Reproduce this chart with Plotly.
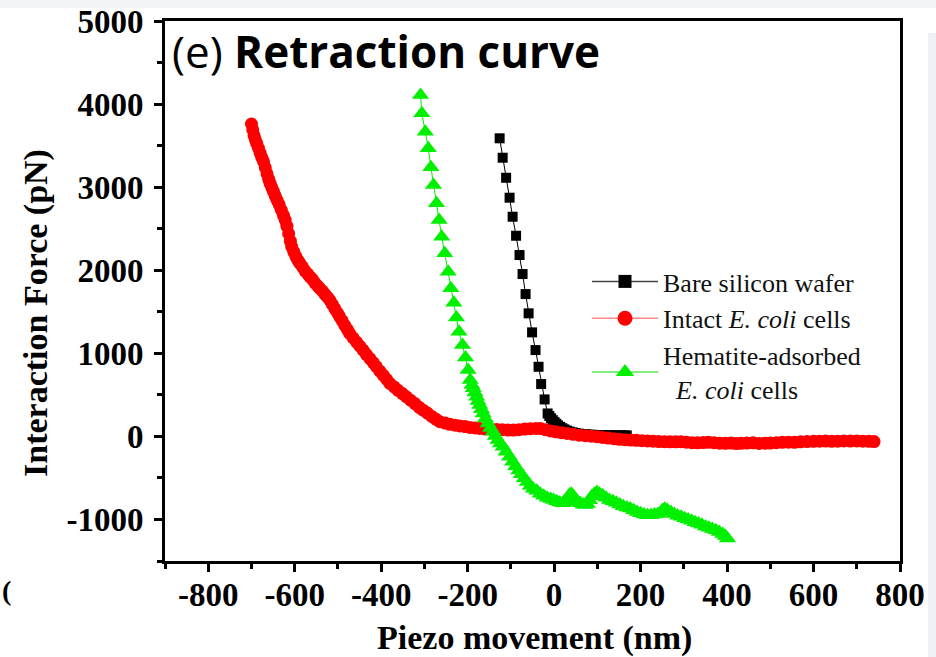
import plotly.graph_objects as go

# Piezo movement (nm) and interaction force (pN) for each retraction curve
bare_x = [-126, -119, -111, -103, -96, -88, -80, -73, -66, -59, -51, -43, -36, -30, -22, -15,
          -11, -7, -3, 1, 5, 9, 14, 19, 24, 30, 36, 43, 50, 58, 66, 74, 82, 90, 98, 106,
          114, 122, 130, 138, 146, 154, 162, 168]
bare_y = [3588, 3354, 3113, 2873, 2644, 2415, 2183, 1954, 1713, 1481, 1252, 1039, 838, 630, 445, 276,
          245, 218, 195, 172, 152, 133, 115, 98, 84, 70, 58, 48, 40, 33, 28, 24, 21, 19, 17, 16,
          15, 14, 13, 13, 12, 12, 12, 12]

intact_x = [-700, -697, -694, -691, -688, -684, -680, -676, -672, -668, -664, -660, -657, -653,
            -649, -645, -641, -636, -631, -626, -622, -618, -614, -610, -607, -602, -597, -592,
            -588, -582, -576, -570, -565, -559, -553, -547, -542, -536, -530, -524, -519, -513,
            -507, -501, -496, -490, -484, -478, -473, -465, -457, -449, -442, -434, -426, -418,
            -411, -403, -395, -387, -380, -370, -361, -351, -342, -332, -322, -312, -303, -293,
            -283, -273, -264, -252, -241, -229, -218, -206, -195, -183, -172, -160, -147, -133,
            -120, -107, -94, -81, -68, -55, -42, -32, -20, -8, 4, 17, 30, 44, 58, 72, 86, 99,
            112, 125, 138, 151, 164, 177, 190, 203, 216, 229, 242, 255, 268, 281, 293, 306,
            319, 332, 345, 357, 370, 383, 396, 409, 421, 432, 446, 460, 474, 488, 500, 514,
            528, 542, 556, 570, 585, 600, 614, 628, 642, 656, 670, 685, 700, 714, 728, 740]
intact_y = [3760, 3690, 3620, 3570, 3528, 3470, 3410, 3355, 3306, 3235, 3160, 3095, 3046, 2995,
            2945, 2895, 2845, 2790, 2725, 2660, 2604, 2530, 2440, 2350, 2283, 2220, 2160, 2115,
            2083, 2040, 1990, 1955, 1922, 1890, 1845, 1810, 1782, 1750, 1710, 1675, 1641, 1590,
            1535, 1485, 1440, 1390, 1335, 1285, 1240, 1185, 1135, 1085, 1039, 985, 935, 885,
            838, 785, 735, 685, 638, 595, 555, 515, 477, 435, 395, 350, 316, 280,
            240, 205, 176, 160, 145, 135, 126, 118, 108, 102, 96, 90, 86, 82,
            80, 76, 76, 80, 88, 92, 96, 96, 80, 65, 55, 45, 36, 25, 15, 8, 2, -4,
            -12, -20, -28, -35, -40, -44, -48, -52, -55, -58, -62, -64, -66, -65, -64, -70,
            -76, -78, -74, -72, -76, -82, -84, -80, -86, -84, -80, -78, -85, -82, -80, -76,
            -72, -70, -72, -66, -62, -60, -58, -56, -60, -58, -55, -56, -55, -58, -60, -62]

hematite_x = [-309, -306, -298, -291, -285, -279, -272, -266, -260, -253, -245, -239, -232, -226,
              -220, -212, -205, -199, -194, -190, -187, -183, -179, -176, -172, -168, -164, -159,
              -153, -147, -141, -136, -130, -124, -118, -111, -103, -96, -89, -82, -76, -69,
              -62, -55, -48, -40, -32, -24, -16, -8, -1, 6, 13, 20, 26, 31, 36, 40, 45, 50,
              55, 61, 67, 72, 77, 82, 87, 93, 99, 105, 112, 120, 128, 136, 144, 152, 160, 168,
              176, 184, 192, 200, 208, 216, 224, 232, 240, 246, 251, 256, 262, 270, 278, 286,
              294, 302, 310, 318, 326, 334, 342, 350, 358, 366, 374, 382, 390, 396, 401]
hematite_y = [4109, 3889, 3667, 3467, 3239, 3026, 2805, 2604, 2403, 2203, 1982, 1782, 1609, 1432,
              1259, 1099, 951, 798, 678, 620, 578, 528, 477, 427, 377, 326, 276, 216,
              156, 100, 55, 5, -45, -85, -125, -185, -245, -305, -360, -410, -455, -505,
              -550, -595, -630, -655, -690, -715, -740, -755, -767, -780, -795, -805, -790, -740,
              -700, -690, -720, -760, -790, -805, -820, -825, -815, -770, -720, -690, -670, -690,
              -710, -740, -765, -780, -800, -820, -840, -855, -868, -890, -910, -925, -940, -948,
              -945, -940, -935, -920, -885, -870, -885, -910, -935, -955, -968, -985, -1000,
              -1015, -1035, -1050, -1065, -1085, -1100, -1115, -1130, -1150, -1175, -1200, -1228]

x_ticks = [-800, -600, -400, -200, 0, 200, 400, 600, 800]
x_tick_text = ["-800", "-600", "-400", "-200", "0", "200", "400", "600", "800"]
y_ticks = [-1000, 0, 1000, 2000, 3000, 4000, 5000]
y_tick_text = ["-1000", "0", "1000", "2000", "3000", "4000", "5000"]

series_names = ["Bare silicon wafer",
                "Intact <i>E. coli</i> cells",
                "Hematite-adsorbed<br>\u00a0\u00a0<i>E. coli</i> cells"]

BLACK = "#000000"
RED = "#ff0000"
GREEN = "#00f000"

SERIF = "Liberation Serif"

# plot-area geometry in pixels
L, R, T, B = 165, 36, 21, 96
W, H = 936, 657
PW, PH = W - L - R, H - T - B


def px_x(p):
    return (p - L) / PW


def px_y(p):
    return (H - B - p) / PH


fig = go.Figure()

# data curves (drawn in series order so later curves sit on top)
fig.add_trace(go.Scatter(x=bare_x, y=bare_y, mode="lines+markers", showlegend=False,
                         line=dict(color=BLACK, width=1),
                         marker=dict(symbol="square", size=10, color=BLACK)))
fig.add_trace(go.Scatter(x=intact_x, y=intact_y, mode="lines+markers", showlegend=False,
                         line=dict(color=RED, width=1),
                         marker=dict(symbol="circle", size=13, color=RED)))
fig.add_trace(go.Scatter(x=hematite_x, y=hematite_y, mode="lines+markers", showlegend=False,
                         line=dict(color=GREEN, width=1),
                         marker=dict(symbol="triangle-up", size=15, color=GREEN)))

# legend entries with larger symbols
legend_styles = [
    (series_names[0], "#444444", "square", 13, BLACK),
    (series_names[1], "#ff8a8a", "circle", 15, RED),
    (series_names[2], "#55e855", "triangle-up", 16, GREEN),
]
for name, lcol, sym, size, mcol in legend_styles:
    fig.add_trace(go.Scatter(x=[None], y=[None], mode="lines+markers", name=name,
                             line=dict(color=lcol, width=1.5),
                             marker=dict(symbol=sym, size=size, color=mcol)))

axis_common = dict(
    showline=True, linecolor="black", linewidth=3, mirror=True,
    ticks="outside", ticklen=8, tickwidth=3, tickcolor="black",
    showgrid=False, zeroline=False, automargin=False,
    tickfont=dict(family=SERIF, size=33, color="black", weight="bold"),
)

fig.update_xaxes(
    range=[-900, 800], tickvals=x_ticks, ticktext=x_tick_text,
    minor=dict(dtick=100, tick0=-900, ticks="outside", ticklen=5, tickwidth=3, tickcolor="black"),
    ticklabelstandoff=-6,
    **axis_common,
)
fig.update_yaxes(
    range=[-1500, 5000], tickvals=y_ticks, ticktext=y_tick_text,
    minor=dict(dtick=500, tick0=-1500, ticks="outside", ticklen=5, tickwidth=3, tickcolor="black"),
    ticklabelstandoff=4,
    **axis_common,
)

title_font = dict(family=SERIF, size=34, color="black", weight="bold")

fig.update_layout(
    width=W, height=H,
    margin=dict(l=L, r=R, t=T, b=B),
    paper_bgcolor="white", plot_bgcolor="white",
    legend=dict(x=px_x(587), y=px_y(258), xanchor="left", yanchor="top",
                bgcolor="rgba(0,0,0,0)", borderwidth=0, itemwidth=66,
                font=dict(family=SERIF, size=26, color="#111111"),
                tracegroupgap=0),
    annotations=[
        dict(text="(e) <b>Retraction curve</b>", xref="paper", yref="paper",
             x=px_x(170), y=px_y(51), xanchor="left", yanchor="middle", showarrow=False,
             font=dict(family="Open Sans", size=44, color="black")),
        dict(text="Piezo movement (nm)", xref="paper", yref="paper",
             x=px_x(534), y=px_y(638), xanchor="center", yanchor="middle", showarrow=False,
             font=title_font),
        dict(text="Interaction Force (pN)", xref="paper", yref="paper", textangle=-90,
             x=px_x(36), y=px_y(313), xanchor="center", yanchor="middle", showarrow=False,
             font=title_font),
        dict(text="<b>(</b>", xref="paper", yref="paper",
             x=px_x(0), y=px_y(590), xanchor="left", yanchor="middle", showarrow=False,
             font=dict(family=SERIF, size=28, color="black")),
    ],
    shapes=[
        dict(type="rect", xref="paper", yref="paper", layer="below",
             x0=px_x(0), x1=px_x(W), y0=px_y(8), y1=px_y(0),
             fillcolor="#f2f4f7", line=dict(width=0)),
        dict(type="rect", xref="paper", yref="paper", layer="below",
             x0=px_x(928), x1=px_x(W), y0=px_y(H), y1=px_y(33),
             fillcolor="#eef1f5", line=dict(width=0)),
    ],
)

fig.write_html("out.html")
